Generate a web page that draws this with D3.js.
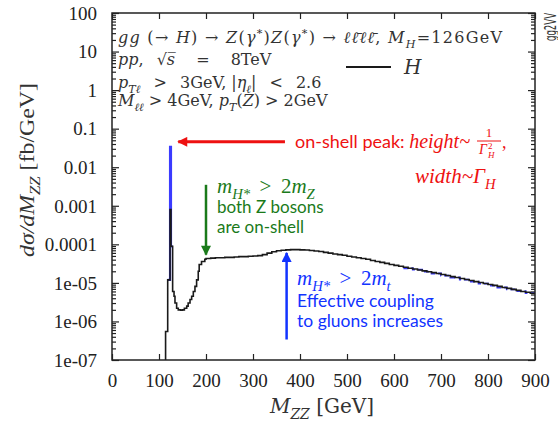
<!DOCTYPE html>
<html>
<head>
<meta charset="utf-8">
<script src="https://cdn.jsdelivr.net/npm/d3@7"></script>
<style>
  body { margin: 0; background: #fff; }
  svg { display: block; }
</style>
</head>
<body>
<div class="chart"></div>
<script>
var width = 558;
var height = 426;

// histogram bin edges [GeV] and dsigma/dM [fb/GeV]
var binEdges = [114, 118.5, 123.5, 125.5, 129, 132, 134, 137.5, 141, 146, 150, 154, 159, 162, 166, 169.5,
	173, 176.5, 180, 183.5, 185.5, 190.5, 197.5, 200,
	210, 220, 230, 240, 250, 260, 270, 280, 290, 300, 310, 320, 330, 340, 350, 360, 370, 380, 390, 400,
	410, 420, 430, 440, 450, 460, 470, 480, 490, 500, 510, 520, 530, 540, 550, 560, 570, 580, 590, 600,
	610, 620, 630, 640, 650, 660, 670, 680, 690, 700, 710, 720, 730, 740, 750, 760, 770, 780, 790, 800,
	810, 820, 830, 840, 850, 860, 870, 880, 890, 900];
var xsecH = [5.5e-7, 1.2e-5, 8e-4, 8.9e-5, 6e-6, 4.5e-6, 3.0e-6, 2.2e-6, 2.0e-6, 1.95e-6, 2.0e-6, 2.2e-6,
	2.5e-6, 3.0e-6, 3.7e-6, 4.5e-6, 6e-6, 8.1e-6, 1.2e-5, 2.0e-5, 3.0e-5, 3.6e-5, 4.1e-5,
	4.3e-5, 4.4e-5, 4.5e-5, 4.5e-5, 4.6e-5, 4.6e-5, 4.7e-5, 4.8e-5, 4.8e-5, 4.9e-5,
	5.0e-5, 5.1e-5, 5.4e-5, 5.9e-5, 6.4e-5, 6.8e-5, 7.0e-5, 7.2e-5, 7.3e-5, 7.3e-5,
	7.2e-5, 7.1e-5, 6.9e-5, 6.7e-5, 6.5e-5, 6.2e-5, 5.9e-5, 5.6e-5, 5.4e-5, 5.2e-5,
	4.9e-5, 4.7e-5, 4.5e-5, 4.3e-5, 4.1e-5, 3.8e-5, 3.6e-5, 3.4e-5, 3.2e-5, 3.0e-5,
	2.85e-5, 2.7e-5, 2.55e-5, 2.4e-5, 2.3e-5, 2.15e-5, 2.05e-5, 1.95e-5, 1.85e-5, 1.75e-5,
	1.65e-5, 1.55e-5, 1.45e-5, 1.38e-5, 1.3e-5, 1.22e-5, 1.15e-5, 1.08e-5, 1.02e-5, 9.6e-6,
	9.1e-6, 8.6e-6, 8.1e-6, 7.6e-6, 7.2e-6, 6.8e-6, 6.4e-6, 6.0e-6, 5.7e-6, 5.4e-6];

// blue curve: narrow on-shell peak and dashed tail
var peakEdges = [118.5, 123.5, 125.5, 129];
var peakXsec = [1.2e-5, 0.034, 8.9e-5];
var tailEdges = [620, 640, 660, 680, 700, 720, 740, 760, 780, 800, 820, 840, 860, 880, 900];
var tailXsec = [2.4e-5, 2.2e-5, 1.95e-5, 1.75e-5, 1.55e-5, 1.38e-5, 1.22e-5, 1.08e-5, 9.6e-6,
	8.5e-6, 7.6e-6, 6.8e-6, 6.1e-6, 5.4e-6];

var xTicks = [0, 100, 200, 300, 400, 500, 600, 700, 800, 900];
var yTicks = [100, 10, 1, 0.1, 0.01, 0.001, 0.0001, 1e-5, 1e-6, 1e-7];
var yTickLabels = ["100", "10", "1", "0.1", "0.01", "0.001", "0.0001", "1e-05", "1e-06", "1e-07"];

var serif = "'Liberation Serif', 'Times New Roman', serif";
var texFont = "'DejaVu Serif', serif";
var sans = "Lato, 'Open Sans', sans-serif";

var plotL = 112, plotR = 535, plotT = 13, plotB = 360;

var x = d3.scaleLinear().domain([0, 900]).range([plotL, plotR]);
var y = d3.scaleLog().domain([1e-7, 100]).range([plotB, plotT]).clamp(true);

var svg = d3.select(".chart")
	.append("svg")
	.attr("width", width)
	.attr("height", height);

var defs = svg.append("defs");
function marker(id, color) {
	defs.append("marker")
		.attr("id", id)
		.attr("markerUnits", "userSpaceOnUse")
		.attr("viewBox", "0 0 10 10")
		.attr("refX", 9).attr("refY", 5)
		.attr("markerWidth", 11).attr("markerHeight", 10)
		.attr("orient", "auto")
		.append("path")
		.attr("d", "M0,0 L10,5 L0,10 z")
		.attr("fill", color);
}
marker("arRed", "#ee1111");
marker("arGreen", "#1a7a1a");
marker("arBlue", "#1133ff");

// minor log ticks 2..9 per decade
var minor = [];
yTicks.forEach(function(d) {
	if (d < 100) for (var k = 2; k <= 9; k++) minor.push(d * k);
});

function noDomain(g) { g.select(".domain").remove(); }

svg.append("g").attr("transform", "translate(" + plotL + ",0)")
	.call(d3.axisLeft(y).tickValues(minor).tickSize(-4).tickFormat(""))
	.call(noDomain);
svg.append("g").attr("transform", "translate(" + plotR + ",0)")
	.call(d3.axisRight(y).tickValues(minor).tickSize(-4).tickFormat(""))
	.call(noDomain);
svg.append("g").attr("transform", "translate(" + plotR + ",0)")
	.call(d3.axisRight(y).tickValues(yTicks).tickSize(-7).tickFormat(""))
	.call(noDomain);

var yAxis = svg.append("g").attr("transform", "translate(" + plotL + ",0)")
	.call(d3.axisLeft(y).tickValues(yTicks).tickSize(-7).tickPadding(15)
		.tickFormat(function(d, i) { return yTickLabels[i]; }))
	.call(noDomain);
var xAxis = svg.append("g").attr("transform", "translate(0," + plotB + ")")
	.call(d3.axisBottom(x).tickValues(xTicks).tickSize(-6).tickPadding(14))
	.call(noDomain);
svg.append("g").attr("transform", "translate(0," + plotT + ")")
	.call(d3.axisBottom(x).tickValues(xTicks).tickSize(6).tickFormat(""))
	.call(noDomain);

svg.selectAll(".tick line").attr("stroke", "#222").attr("stroke-width", 1.2);
[yAxis, xAxis].forEach(function(a) {
	a.selectAll("text")
		.style("font-family", serif)
		.style("font-size", "19px")
		.attr("fill", "#222");
});
yAxis.selectAll("text").attr("dy", "0.33em");

// histogram step lines
function steps(edges, vals, fromFloor) {
	var pts = vals.map(function(v, i) { return [edges[i], v]; });
	pts.push([edges[edges.length - 1], vals[vals.length - 1]]);
	if (fromFloor) pts.unshift([edges[0], 1e-7]);
	return pts;
}
var line = d3.line()
	.x(function(d) { return x(d[0]); })
	.y(function(d) { return y(d[1]); })
	.curve(d3.curveStepAfter);

svg.append("path")
	.datum(steps(peakEdges, peakXsec, false))
	.attr("d", line)
	.attr("fill", "none")
	.attr("stroke", "#3b3bff")
	.attr("stroke-width", 2.2);
svg.append("path")
	.datum(steps(tailEdges, tailXsec, false))
	.attr("d", line)
	.attr("fill", "none")
	.attr("stroke", "#3b3bff")
	.attr("stroke-width", 1.8)
	.attr("stroke-dasharray", "5,3");
svg.append("path")
	.datum(steps(binEdges, xsecH, true))
	.attr("d", line)
	.attr("fill", "none")
	.attr("stroke", "#1a1a1a")
	.attr("stroke-width", 1.6);

// frame
svg.append("rect")
	.attr("x", plotL).attr("y", plotT)
	.attr("width", plotR - plotL).attr("height", plotB - plotT)
	.attr("fill", "none")
	.attr("stroke", "#222")
	.attr("stroke-width", 1.5);

// mixed math text helper
function richText(sel, px, py, parts, base) {
	var t = sel.append("text").attr("x", px).attr("y", py)
		.style("font-family", base.family)
		.style("font-size", base.size + "px")
		.attr("fill", base.fill);
	var off = 0;
	parts.forEach(function(p) {
		var target = p.sub ? base.size * 0.3 : (p.sup ? -base.size * 0.38 : 0);
		var ts = t.append("tspan").text(p.t).attr("dy", target - off);
		off = target;
		if (p.it) ts.style("font-style", "italic");
		if (p.sub || p.sup) ts.style("font-size", (base.size * 0.7) + "px");
		if (p.family) ts.style("font-family", p.family);
	});
	if (base.anchor) t.attr("text-anchor", base.anchor);
	if (base.len) t.attr("textLength", base.len).attr("lengthAdjust", base.adjust || "spacing");
	return t;
}

var tx = { family: texFont, size: 16, fill: "#333" };
richText(svg, 118, 43, [
	{ t: "gg", it: 1 }, { t: " (\u2192 " }, { t: "H", it: 1 }, { t: ") \u2192 " },
	{ t: "Z", it: 1 }, { t: "(" }, { t: "\u03b3", it: 1 }, { t: "*", sup: 1 }, { t: ")" },
	{ t: "Z", it: 1 }, { t: "(" }, { t: "\u03b3", it: 1 }, { t: "*", sup: 1 }, { t: ") \u2192 " },
	{ t: "\u2113\u2113\u0304\u2113\u2113\u0304", it: 1 }, { t: ", " }, { t: "M", it: 1 }, { t: "H", it: 1, sub: 1 },
	{ t: "=126GeV" }
], { family: texFont, size: 16, fill: "#333", len: 384 });
richText(svg, 118, 65, [
	{ t: "pp", it: 1 }, { t: ",\u2002 \u221a" }, { t: "s\u0305", it: 1 }, { t: " \u2003=\u2003 8TeV" }
], tx);
richText(svg, 118, 88, [
	{ t: "p", it: 1 }, { t: "T\u2113", it: 1, sub: 1 }, { t: " \u2002>\u2002 3GeV, |" }, { t: "\u03b7", it: 1 },
	{ t: "\u2113", it: 1, sub: 1 }, { t: "| \u2002<\u2002 2.6" }
], tx);
richText(svg, 118, 106, [
	{ t: "M", it: 1 }, { t: "\u2113\u2113", it: 1, sub: 1 }, { t: " > 4GeV, " }, { t: "p", it: 1 },
	{ t: "T", it: 1, sub: 1 }, { t: "(" }, { t: "Z", it: 1 }, { t: ") > 2GeV" }
], tx);

// legend
svg.append("line")
	.attr("x1", 346).attr("x2", 391).attr("y1", 67).attr("y2", 67)
	.attr("stroke", "#1a1a1a").attr("stroke-width", 2);
richText(svg, 404, 74, [{ t: "H", it: 1 }], { family: texFont, size: 20, fill: "#333" });

// axis titles
richText(svg, 322, 413, [
	{ t: "M", it: 1 }, { t: "ZZ", it: 1, sub: 1 }, { t: " [GeV]" }
], { family: texFont, size: 20, fill: "#333", anchor: "middle" });
richText(svg, 0, 0, [
	{ t: "d\u03c3/dM", it: 1 }, { t: "ZZ", it: 1, sub: 1 }, { t: " [fb/GeV]" }
], { family: serif, size: 21, fill: "#333", anchor: "middle", len: 174, adjust: "spacingAndGlyphs" })
	.attr("transform", "translate(34,170) rotate(-90)");

svg.append("text")
	.attr("transform", "translate(556,41) rotate(-90)")
	.attr("textLength", 28).attr("lengthAdjust", "spacingAndGlyphs")
	.style("font-family", "'DejaVu Sans', sans-serif")
	.style("font-size", "16px")
	.attr("fill", "#333")
	.text("gg2VV");

// annotations
var red = "#ee1111", green = "#1a7a1a", blue = "#1133ff";
svg.append("line")
	.attr("x1", x(368)).attr("y1", y(0.0455)).attr("x2", x(141)).attr("y2", y(0.0455))
	.attr("stroke", red).attr("stroke-width", 3).attr("marker-end", "url(#arRed)");
var mathFont = "'Liberation Serif', serif";
richText(svg, 295, 148, [
	{ t: "on-shell peak: ", family: sans }, { t: "height~", it: 1, family: mathFont }
], { family: sans, size: 18, fill: red }).select("tspan:last-child").style("font-size", "20px");
var fx = 489;
svg.append("text").attr("x", fx).attr("y", 137).attr("text-anchor", "middle")
	.style("font-family", mathFont).style("font-size", "13px").attr("fill", red).text("1");
svg.append("line").attr("x1", fx - 12).attr("x2", fx + 12).attr("y1", 141).attr("y2", 141)
	.attr("stroke", red).attr("stroke-width", 1);
svg.append("text").attr("x", fx - 10).attr("y", 154)
	.style("font-family", mathFont).style("font-size", "14px").style("font-style", "italic")
	.attr("fill", red).text("\u0393");
svg.append("text").attr("x", fx - 1).attr("y", 149)
	.style("font-family", mathFont).style("font-size", "9px").attr("fill", red).text("2");
svg.append("text").attr("x", fx - 1).attr("y", 158)
	.style("font-family", mathFont).style("font-size", "9px").style("font-style", "italic")
	.attr("fill", red).text("H");
svg.append("text").attr("x", 502).attr("y", 148)
	.style("font-family", mathFont).style("font-size", "18px").attr("fill", red).text(",");
richText(svg, 415, 183, [
	{ t: "width~\u0393", it: 1 }, { t: "H", it: 1, sub: 1 }
], { family: mathFont, size: 21, fill: red });

svg.append("line")
	.attr("x1", x(200)).attr("y1", y(0.0035)).attr("x2", x(200)).attr("y2", y(5.4e-5))
	.attr("stroke", green).attr("stroke-width", 2.5).attr("marker-end", "url(#arGreen)");
richText(svg, 217, 193, [
	{ t: "m", it: 1 }, { t: "H*", it: 1, sub: 1 }, { t: " \u2009>\u2009 2" }, { t: "m", it: 1 }, { t: "Z", it: 1, sub: 1 }
], { family: mathFont, size: 21, fill: green });
richText(svg, 217, 213, [{ t: "both Z bosons" }], { family: sans, size: 17, fill: green });
richText(svg, 217, 233, [{ t: "are on-shell" }], { family: sans, size: 17, fill: green });

svg.append("line")
	.attr("x1", x(371.5)).attr("y1", y(3.4e-7)).attr("x2", x(371.5)).attr("y2", y(6e-5))
	.attr("stroke", blue).attr("stroke-width", 2.5).attr("marker-end", "url(#arBlue)");
richText(svg, 297, 285, [
	{ t: "m", it: 1 }, { t: "H*", it: 1, sub: 1 }, { t: " \u2009>\u2009 2" }, { t: "m", it: 1 }, { t: "t", it: 1, sub: 1 }
], { family: mathFont, size: 21, fill: blue });
richText(svg, 297, 307, [{ t: "Effective coupling" }], { family: sans, size: 17.5, fill: blue });
richText(svg, 297, 327, [{ t: "to gluons increases" }], { family: sans, size: 17.5, fill: blue });
</script>
</body>
</html>
